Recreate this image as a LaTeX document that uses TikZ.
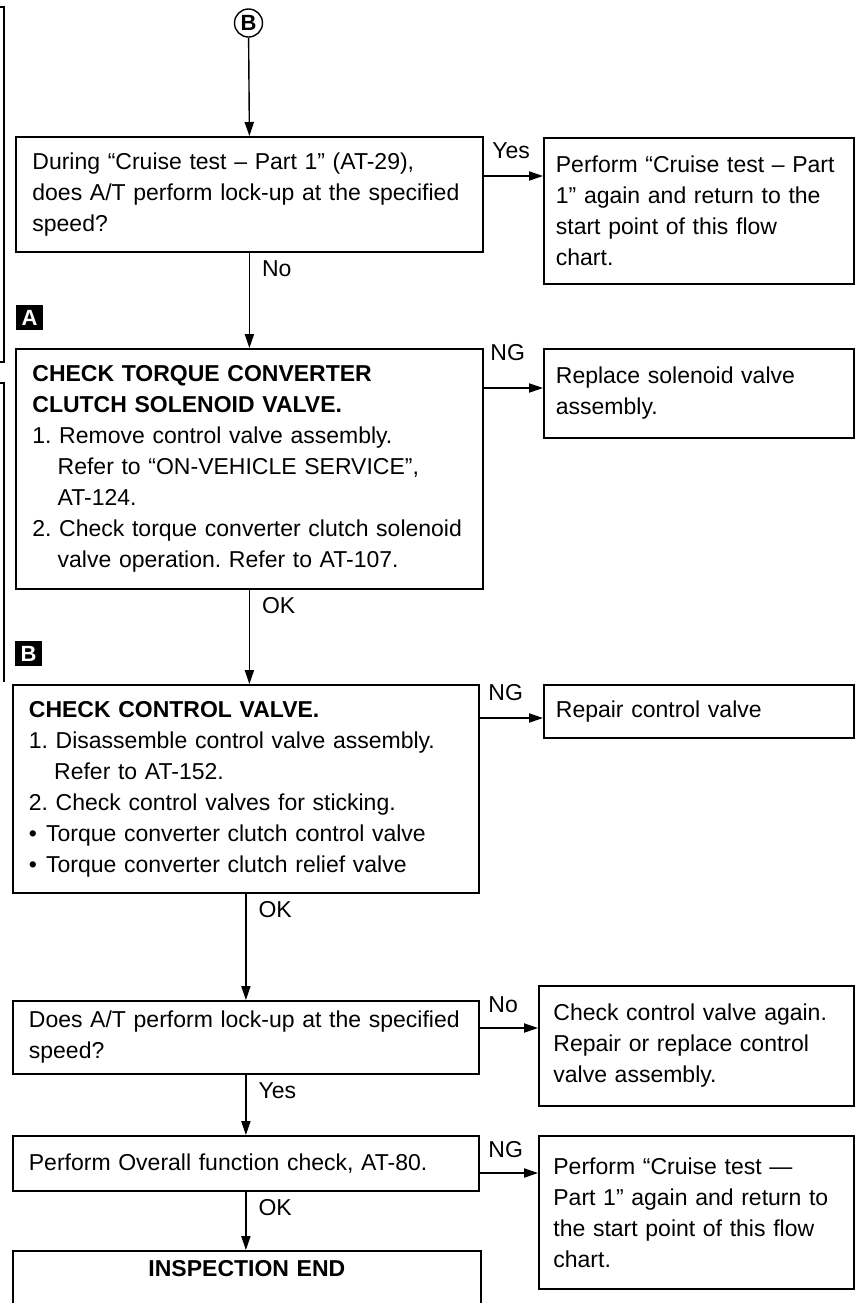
\documentclass[tikz,border=0pt]{standalone}
\usepackage{fontspec}
\setmainfont{Liberation Sans}
\usetikzlibrary{arrows.meta}
\frenchspacing

\tikzset{
  box/.style={draw, line width=0.9pt, anchor=north west, inner xsep=8pt,
    align=left, font=\fontsize{11.5}{15.5}\selectfont},
  leftbox/.style={box, minimum width=233.5pt, text width=217pt},
  rightbox/.style={box, inner xsep=6pt, minimum width=155pt, text width=143pt},
  flow/.style={line width=0.7pt, -{Triangle[length=7pt,width=4.6pt]}},
  tag/.style={anchor=base west, inner sep=0pt, font=\fontsize{11.5}{15.5}\selectfont},
  letterbox/.style={fill=black, text=white, inner sep=0pt, minimum width=13.5pt,
    minimum height=12.5pt, font=\fontsize{11}{11}\selectfont\bfseries},
}

\begin{document}
\begin{tikzpicture}[x=0.5pt,y=-0.5pt]
  \clip (0,0) rectangle (859,1303);

  % fragments of the neighbouring frame
  \draw[line width=0.7pt] (0,7) -- (4,7) -- (4,362) -- (0,362);
  \draw[line width=0.7pt] (0,383) -- (4,383) -- (4,682);

  \node[circle, draw, line width=0.7pt, inner sep=0pt, minimum size=14pt,
    font=\fontsize{11}{11}\selectfont\bfseries] (bc) at (248.5,23) {B};

  % left column
  \node[leftbox, minimum height=57.5pt] (q1) at (15,136)
    {During “Cruise test – Part 1” (AT-29),\\
     does A/T perform lock-up at the specified\\
     speed?};
  \node[letterbox] (ma) at (29.5,317.5) {A};
  \node[leftbox, minimum height=120pt] (q2) at (15,348)
    {\textbf{CHECK TORQUE CONVERTER}\\
     \textbf{CLUTCH SOLENOID VALVE.}\\
     1. Remove control valve assembly.\\
     \hspace*{1.1em}Refer to “ON-VEHICLE SERVICE”,\\
     \hspace*{1.1em}AT-124.\\
     2. Check torque converter clutch solenoid\\
     \hspace*{1.1em}valve operation. Refer to AT-107.};
  \node[letterbox] (mb) at (28.5,653.5) {B};
  \node[leftbox, minimum width=232.5pt, minimum height=104pt] (q3) at (12,684)
    {\textbf{CHECK CONTROL VALVE.}\\
     1. Disassemble control valve assembly.\\
     \hspace*{1.1em}Refer to AT-152.\\
     2. Check control valves for sticking.\\
     •\hspace{0.4em}Torque converter clutch control valve\\
     •\hspace{0.4em}Torque converter clutch relief valve};
  \node[leftbox, minimum width=232.5pt, minimum height=36.5pt] (q4) at (12,1000)
    {Does A/T perform lock-up at the specified\\
     speed?};
  \node[leftbox, minimum width=232.5pt, minimum height=27.5pt] (q5) at (12,1135)
    {Perform Overall function check, AT-80.};
  \node[leftbox, minimum width=234pt, minimum height=40pt] (q6) at (12,1250)
    {\hfill\textbf{INSPECTION END}\hfill\null\\[2pt]\strut};

  % right column
  \node[rightbox, minimum height=73pt] (r1) at (543,137)
    {Perform “Cruise test – Part\\
     1” again and return to the\\
     start point of this flow\\
     chart.};
  \node[rightbox, minimum height=44.5pt] (r2) at (543,348)
    {Replace solenoid valve\\
     assembly.};
  \node[rightbox, minimum height=26.5pt] (r3) at (543,684)
    {Repair control valve};
  \node[rightbox, minimum width=157.5pt, minimum height=60pt] (r4) at (538,985)
    {Check control valve again.\\
     Repair or replace control\\
     valve assembly.};
  \node[rightbox, minimum width=157.5pt, minimum height=76.5pt] (r5) at (538,1135)
    {Perform “Cruise test —\\
     Part 1” again and return to\\
     the start point of this flow\\
     chart.};

  % vertical flow
  \draw[flow] (bc) -- (q1.north);
  \draw[flow] (q1.south) -- node[tag, at start, xshift=6pt, yshift=-12pt] {No} (q2.north);
  \draw[flow] (q2.south) -- node[tag, at start, xshift=6pt, yshift=-12pt] {OK} (q2.south |- q3.north);
  \draw[flow] (q3.south) -- node[tag, at start, xshift=6pt, yshift=-12pt] {OK} (q3.south |- q4.north);
  \draw[flow] (q4.south) -- node[tag, at start, xshift=6pt, yshift=-12pt] {Yes} (q4.south |- q5.north);
  \draw[flow] (q5.south) -- node[tag, at start, xshift=6pt, yshift=-12pt] {OK} (q5.south |- q6.north);

  % side branches
  \coordinate (y1) at (r1.west |- 0,176);
  \coordinate (y2) at (r2.west |- 0,388);
  \coordinate (y3) at (r3.west |- 0,718);
  \coordinate (y4) at (r4.west |- 0,1028);
  \coordinate (y5) at (r5.west |- 0,1173);
  \draw[flow] (y1 -| q1.east) -- (y1);
  \draw[flow] (y2 -| q2.east) -- (y2);
  \draw[flow] (y3 -| q3.east) -- (y3);
  \draw[flow] (y4 -| q4.east) -- (y4);
  \draw[flow] (y5 -| q5.east) -- (y5);
  \node[tag] (t1) at (492,158) {Yes};
  \node[tag] (t2) at (490,360) {NG};
  \node[tag] (t3) at (488,700) {NG};
  \node[tag] (t4) at (488,1012) {No};
  \node[tag] (t5) at (488,1157) {NG};
\end{tikzpicture}
\end{document}
